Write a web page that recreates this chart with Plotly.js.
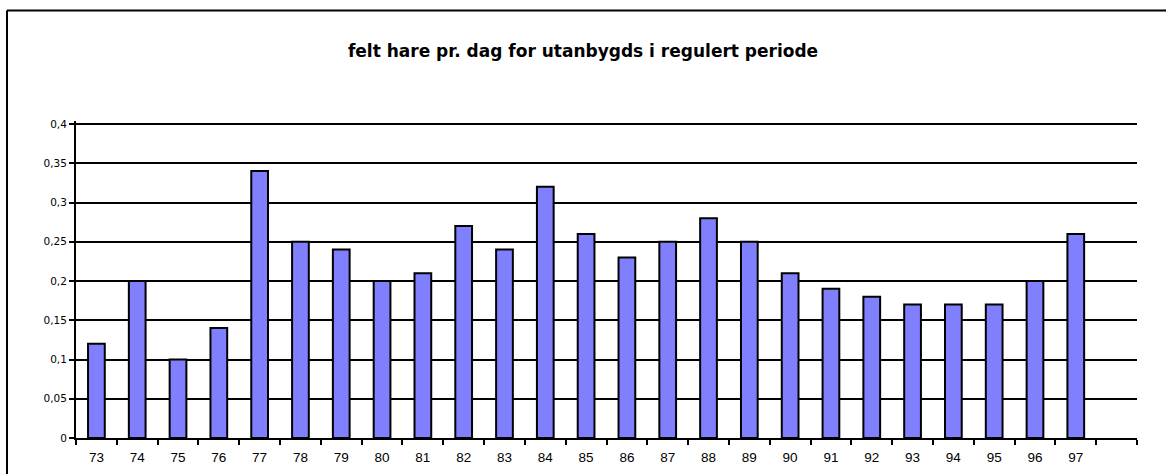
<!DOCTYPE html>
<html>
<head>
<meta charset="utf-8">
<script src="https://cdn.plot.ly/plotly-3.0.1.min.js"></script>
<style>
  html, body { margin: 0; padding: 0; background: #fff; }
  #chart { width: 1166px; height: 474px; }
</style>
</head>
<body>
<div id="chart"></div>
<script>
// Data
const years = ['73','74','75','76','77','78','79','80','81','82','83','84','85','86','87','88','89','90','91','92','93','94','95','96','97'];
const values = [0.12,0.20,0.10,0.14,0.34,0.25,0.24,0.20,0.21,0.27,0.24,0.32,0.26,0.23,0.25,0.28,0.25,0.21,0.19,0.18,0.17,0.17,0.17,0.20,0.26];
// The axis in the reference has one extra, unlabeled slot after the last year
const extraSlot = ['98'];
const slotLabels = years.concat(['']);
const titleText = 'felt hare pr. dag for utanbygds i regulert periode';

const fontA = 'Arial, "Liberation Sans", sans-serif';
const fontD = '"DejaVu Sans", Arial, sans-serif';
const allSlots = years.concat(extraSlot);

const trace = {
  type: 'bar',
  x: years,
  y: values,
  width: 0.41,
  marker: { color: '#8080FF', line: { color: '#000000', width: 2 } },
  hoverinfo: 'x+y'
};

const W = 1166, H = 474;
const m = { l: 76, r: 29, t: 121, b: 36 };
const pw = W - m.l - m.r, ph = H - m.t - m.b;
const px = (p) => (p - m.l) / pw;
const py = (p) => (H - m.b - p) / ph;
// extend the value range by 3px so that the 0,4 grid line is kept (drawn at y=124)
const yTop = 0.4 * ph / (ph - 3);

const layout = {
  width: W, height: H,
  margin: m,
  paper_bgcolor: '#ffffff',
  plot_bgcolor: '#ffffff',
  separators: ',.',
  showlegend: false,
  font: { family: fontA, size: 11, color: '#000' },
  title: {
    text: '<b>' + titleText + '</b>',
    font: { family: fontD, size: 17, color: '#000' },
    xref: 'container', x: 0.5, xanchor: 'center',
    yref: 'container', y: 1 - 51 / H, yanchor: 'middle'
  },
  xaxis: {
    type: 'category',
    categoryorder: 'array',
    categoryarray: allSlots,
    tickvals: allSlots,
    ticktext: slotLabels,
    range: [-0.5, allSlots.length - 0.5],
    tickson: 'boundaries',
    ticks: 'outside', ticklen: 5, tickwidth: 2, tickcolor: '#000',
    ticklabelstandoff: 6,
    showline: true, linecolor: '#000', linewidth: 2,
    showgrid: false, zeroline: false,
    tickfont: { family: fontA, size: 13.5, color: '#000' },
    fixedrange: true
  },
  yaxis: {
    range: [0, yTop],
    dtick: 0.05, tick0: 0,
    ticks: 'outside', ticklen: 5, tickwidth: 2, tickcolor: '#000',
    showline: true, linecolor: '#000', linewidth: 2,
    showgrid: true, gridcolor: '#000', gridwidth: 2,
    zeroline: false,
    tickfont: { family: fontD, size: 10.5, color: '#000' },
    fixedrange: true
  },
  shapes: [
    { type: 'line', xref: 'paper', yref: 'paper', x0: px(7), x1: px(7), y0: py(10.5), y1: py(490), line: { color: '#000', width: 2 } },
    { type: 'line', xref: 'paper', yref: 'paper', x0: px(7), x1: px(1200), y0: py(10.5), y1: py(10.5), line: { color: '#000', width: 2 } }
  ]
};

Plotly.newPlot('chart', [trace], layout, { displayModeBar: false, staticPlot: true });
</script>
</body>
</html>
